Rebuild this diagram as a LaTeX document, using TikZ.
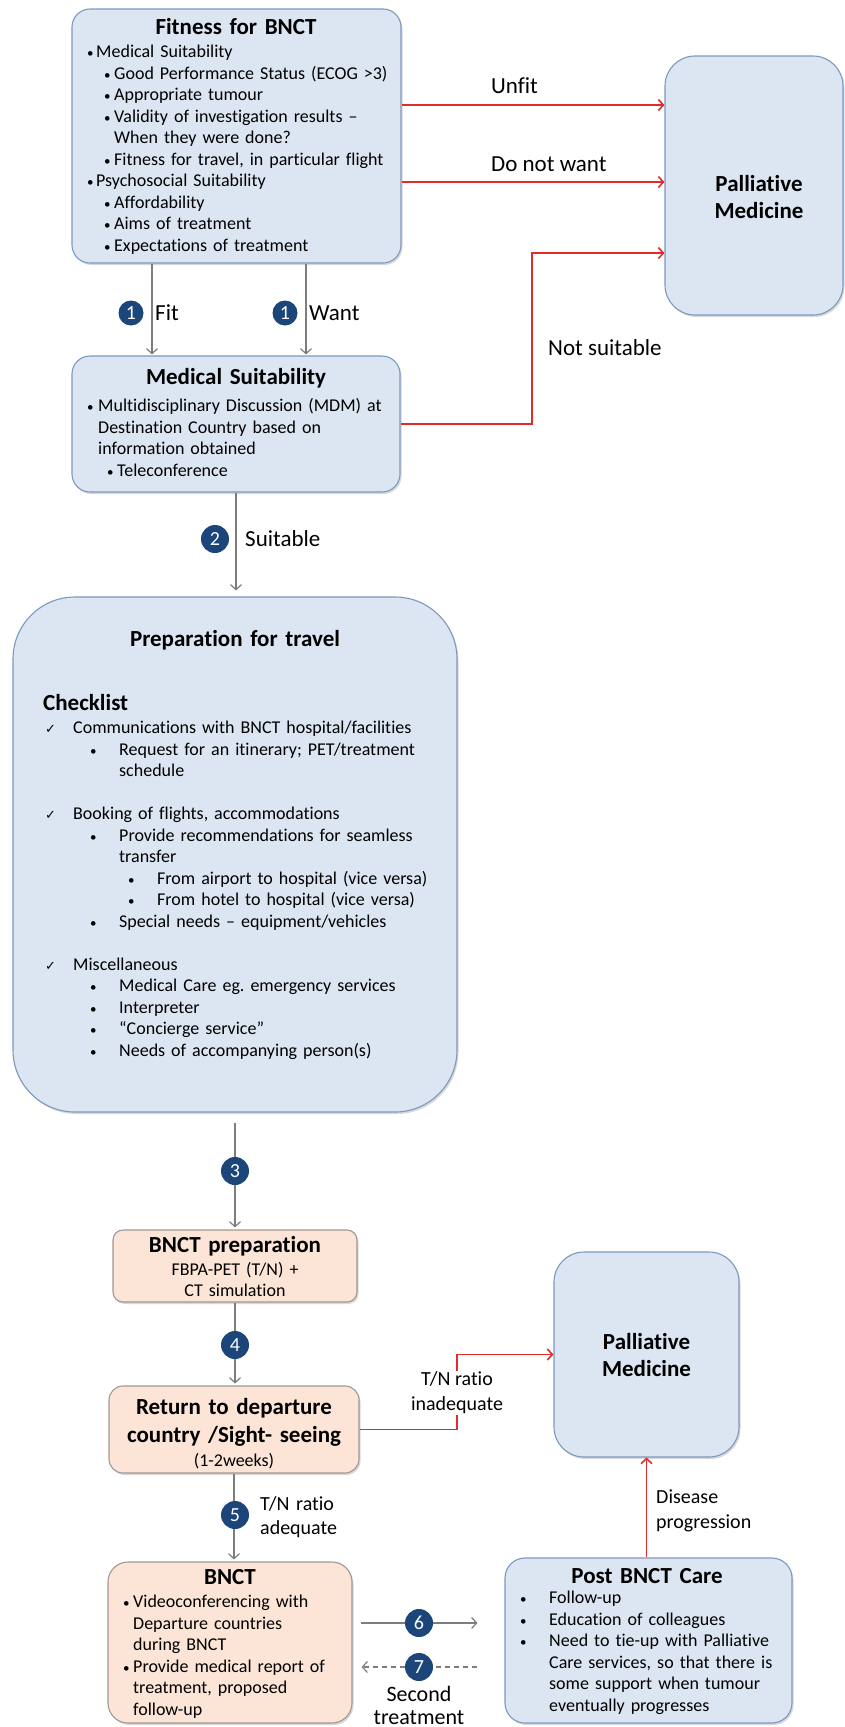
\documentclass[tikz,border=0pt]{standalone}
\usepackage{fontspec}
\setmainfont{Carlito}[Ligatures=NoCommon]
\newfontfamily\checkfont{DejaVu Sans}
\usetikzlibrary{arrows.meta,shadows}

\definecolor{boxblue}{RGB}{220,230,242}
\definecolor{edgeblue}{RGB}{124,153,190}
\definecolor{boxpeach}{RGB}{252,229,214}
\definecolor{edgepeach}{RGB}{160,152,148}
\definecolor{flowred}{RGB}{226,44,44}
\definecolor{flowgray}{RGB}{125,125,125}
\definecolor{stepblue}{RGB}{28,70,122}

\newcommand\bodyfont{\fontsize{18}{21.5}\selectfont}
\newcommand\titlefont{\fontsize{23}{27}\selectfont\bfseries}
\newcommand\headfont{\fontsize{23}{28}\selectfont\bfseries}
\newcommand\linkfont{\fontsize{23}{26}\selectfont}
\newcommand\notefont{\fontsize{20}{25}\selectfont}
\newcommand\bul[2]{\hspace*{#1pt}\makebox[#2pt][l]{\fontsize{13}{13}\selectfont •}}
\newcommand\chk{\makebox[28pt][l]{\checkfont\fontsize{13}{13}\selectfont ✓}}

\begin{document}
\frenchspacing
\begin{tikzpicture}[x=1pt, y=-1pt, >={Straight Barb[length=5pt,width=11pt]},
    bluebox/.style={draw=edgeblue, fill=boxblue, line width=1.1pt, rounded corners=#1,
        drop shadow={shadow xshift=1.5pt, shadow yshift=-2pt, opacity=0.3}},
    peachbox/.style={draw=edgepeach, fill=boxpeach, line width=1.1pt, rounded corners=#1,
        drop shadow={shadow xshift=1.5pt, shadow yshift=-2pt, opacity=0.3}},
    redflow/.style={->, draw=flowred, line width=1.6pt},
    grayflow/.style={->, draw=flowgray, line width=1.2pt},
    stepno/.style={circle, fill=stepblue, text=white, inner sep=0pt,
        minimum size=#1, font=\fontsize{20}{20}\selectfont},
    stepno/.default=28pt,
    listtext/.style={anchor=base west, inner sep=0pt, text width=#1, align=left, font=\bodyfont},
    midtext/.style={anchor=base, inner sep=0pt, text width=#1, align=center},
    linklabel/.style={anchor=base west, inner sep=0pt, font=\linkfont}]

    \fill[white] (0,0) rectangle (845,1727);
    \useasboundingbox (0,0) rectangle (845,1727);

    % boxes
    \node[bluebox=18pt, minimum width=329pt, minimum height=254pt] (fitness) at (236.5,136) {};
    \node[bluebox=30pt, minimum width=178pt, minimum height=259pt] (pm) at (754,185.5) {};
    \node[bluebox=18pt, minimum width=328pt, minimum height=136pt] (medsuit) at (236,424) {};
    \node[bluebox=62pt, minimum width=444pt, minimum height=515pt] (prep) at (235,854.5) {};
    \node[peachbox=10pt, minimum width=244pt, minimum height=72pt] (bnctprep) at (235,1266) {};
    \node[peachbox=14pt, minimum width=250pt, minimum height=87pt] (ret) at (234,1429.5) {};
    \node[bluebox=30pt, minimum width=185pt, minimum height=205pt] (pm2) at (646.5,1354.5) {};
    \node[peachbox=20pt, minimum width=244pt, minimum height=161pt] (bnct) at (230,1642.5) {};
    \node[bluebox=20pt, minimum width=287pt, minimum height=165pt] (post) at (648.5,1640.5) {};

    % box texts
    \node[midtext=300pt, font=\titlefont] (fitnessT) at (236,34.5) {Fitness for BNCT};
    \node[listtext=310pt] (fitnessL) at (87,57.5) {%
        \bul{0}{9}Medical Suitability\\
        \bul{17}{10}Good Performance Status (ECOG >3)\\
        \bul{17}{10}Appropriate tumour\\
        \bul{17}{10}Validity of investigation results –\\
        \hspace*{27pt}When they were done?\\
        \bul{17}{10}Fitness for travel, in particular flight\\
        \bul{0}{9}Psychosocial Suitability\\
        \bul{17}{10}Affordability\\
        \bul{17}{10}Aims of treatment\\
        \bul{17}{10}Expectations of treatment};

    \node[midtext=170pt, font=\titlefont] (pmT) at (759,191.5) {Palliative\\Medicine};

    \node[midtext=300pt, font=\titlefont] (medsuitT) at (236,384.5) {Medical Suitability};
    \node[listtext=310pt] (medsuitL) at (87,411.5) {%
        \bul{0}{11}Multidisciplinary Discussion (MDM) at\\
        \hspace*{11pt}Destination Country based on\\
        \hspace*{11pt}information obtained\\
        \bul{20}{10}Teleconference};

    \node[midtext=400pt, font=\titlefont] (prepT) at (235,646.5) {Preparation for travel};
    \node[anchor=base west, inner sep=0pt, font=\headfont] (checkT) at (43,710.5) {Checklist};
    \node[listtext=410pt] (prepL) at (45,733.5) {%
        \chk Communications with BNCT hospital/facilities\\
        \bul{45}{29}Request for an itinerary; PET/treatment\\
        \hspace*{74pt}schedule\\
        \mbox{}\\
        \chk Booking of flights, accommodations\\
        \bul{45}{29}Provide recommendations for seamless\\
        \hspace*{74pt}transfer\\
        \bul{83}{29}From airport to hospital (vice versa)\\
        \bul{83}{29}From hotel to hospital (vice versa)\\
        \bul{45}{29}Special needs – equipment/vehicles\\
        \mbox{}\\
        \chk Miscellaneous\\
        \bul{45}{29}Medical Care eg. emergency services\\
        \bul{45}{29}Interpreter\\
        \bul{45}{29}“Concierge service”\\
        \bul{45}{29}Needs of accompanying person(s)};

    \node[midtext=240pt, font=\titlefont] (bnctprepT) at (235,1252.5) {BNCT preparation};
    \node[midtext=240pt, font=\fontsize{18}{20.5}\selectfont] (bnctprepL) at (235,1275.5) {FBPA-PET (T/N) +\\CT simulation};

    \node[midtext=250pt, font=\headfont] (retT) at (234,1414.5) {Return to departure\\country /Sight- seeing};
    \node[midtext=250pt, font=\bodyfont] (retL) at (234,1466) {(1-2weeks)};

    \node[midtext=180pt, font=\titlefont] (pm2T) at (646.5,1349.5) {Palliative\\Medicine};

    \node[midtext=240pt, font=\headfont] (bnctT) at (230,1584.5) {BNCT};
    \node[listtext=230pt] (bnctL) at (123,1607.5) {%
        \bul{0}{10}Videoconferencing with\\
        \hspace*{10pt}Departure countries\\
        \hspace*{10pt}during BNCT\\
        \bul{0}{10}Provide medical report of\\
        \hspace*{10pt}treatment, proposed\\
        \hspace*{10pt}follow-up};

    \node[midtext=280pt, font=\headfont] (postT) at (647,1583.5) {Post BNCT Care};
    \node[listtext=270pt] (postL) at (520,1603.5) {%
        \bul{0}{29}Follow-up\\
        \bul{0}{29}Education of colleagues\\
        \bul{0}{29}Need to tie-up with Palliative\\
        \hspace*{29pt}Care services, so that there is\\
        \hspace*{29pt}some support when tumour\\
        \hspace*{29pt}eventually progresses};

    % red exits
    \draw[redflow] (fitness.east |- 0,105) -- (pm.west |- 0,105);
    \node[linklabel] (unfit) at (491,93) {Unfit};
    \draw[redflow] (fitness.east |- 0,182) -- (pm.west |- 0,182);
    \node[linklabel] (nowant) at (491,171) {Do not want};
    \draw[redflow] (medsuit.east) -- (medsuit.east -| 532,0) |- (pm.west |- 0,253);
    \node[linklabel] (notsuit) at (548,355) {Not suitable};

    \draw[redflow] (ret.east) -- (ret.east -| 457,0) |- (pm2.west);
    \node[fill=white, inner sep=1pt, align=center, font=\notefont] (inadeq) at (457,1393) {T/N ratio\\inadequate};
    \draw[redflow] (post.north -| pm2.south) -- (pm2.south);
    \node[listtext=120pt, font=\notefont] (disease) at (656,1503) {Disease\\progression};

    % main steps
    \draw[grayflow, shorten >=1pt] (fitness.south -| 152,0) -- (medsuit.north -| 152,0);
    \draw[grayflow, shorten >=1pt] (fitness.south -| 306,0) -- (medsuit.north -| 306,0);
    \node[stepno=25pt] (s1a) at (131,313) {1};
    \node[stepno=25pt] (s1b) at (285,313) {1};
    \node[linklabel] (fit) at (155,320) {Fit};
    \node[linklabel] (want) at (309,320) {Want};

    \draw[grayflow, shorten >=6pt] (medsuit.south) -- (medsuit.south |- prep.north);
    \node[stepno] (s2) at (215,539) {2};
    \node[linklabel] (suit) at (245,546) {Suitable};

    \draw[grayflow, shorten <=10pt, shorten >=2pt] (prep.south) -- (prep.south |- bnctprep.north);
    \node[stepno] (s3) at (235,1171) {3};

    \draw[grayflow, shorten >=2pt] (bnctprep.south) -- (bnctprep.south |- ret.north);
    \node[stepno] (s4) at (235,1345) {4};

    \draw[grayflow, shorten >=2pt] (ret.south) -- (ret.south |- bnct.north);
    \node[stepno] (s5) at (235,1515) {5};
    \node[listtext=120pt, font=\fontsize{20}{24}\selectfont] (adeq) at (260,1510) {T/N ratio\\adequate};

    \draw[grayflow, shorten <=8pt, shorten >=27pt] (bnct.east |- 0,1623) -- (post.west |- 0,1623);
    \node[stepno] (s6) at (419,1623) {6};
    \draw[grayflow, dash pattern=on 5pt off 4pt, shorten <=27pt, shorten >=9pt] (post.west |- 0,1667) -- (bnct.east |- 0,1667);
    \node[stepno] (s7) at (419,1667) {7};
    \node[midtext=120pt, font=\fontsize{22}{23}\selectfont] (second) at (419,1701) {Second\\treatment};
\end{tikzpicture}
\end{document}
